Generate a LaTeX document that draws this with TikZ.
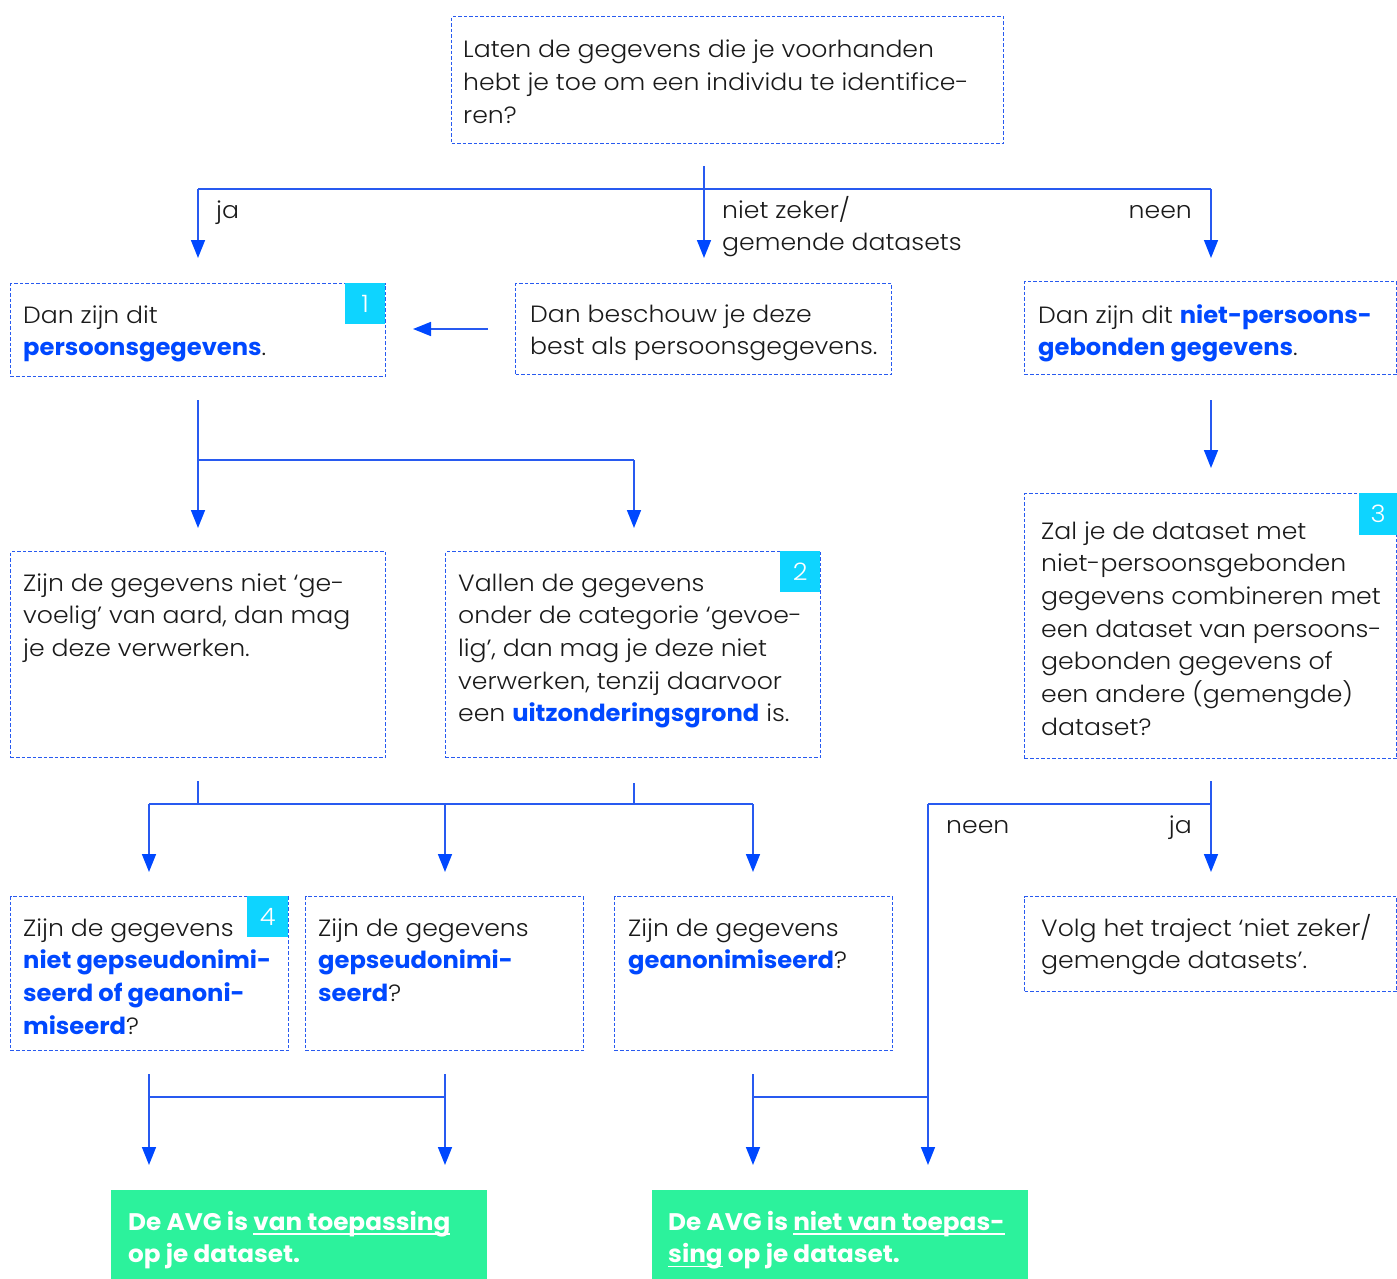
\documentclass[tikz,border=0pt]{standalone}
\usepackage{fontspec}
\setmainfont{Poppins}[UprightFont={* Light}, BoldFont={* Bold}, UprightFeatures={FakeStretch=1.07}, BoldFeatures={FakeStretch=1.03}]
\usetikzlibrary{arrows.meta}
\definecolor{lblue}{RGB}{40,90,240}
\definecolor{dblue}{RGB}{0,72,255}
\definecolor{tblack}{RGB}{26,26,26}
\definecolor{agreen}{RGB}{44,242,156}
\definecolor{acyan}{RGB}{14,212,255}
\newcommand\hl[1]{\textbf{\color{dblue}#1}}
\newcommand\lns[1]{\begin{tabular}[t]{@{}l@{}}#1\end{tabular}}
\newlength\ulw
\newcommand\wul[1]{\settowidth\ulw{#1}\rlap{\color{white}\rule[-4.5pt]{\ulw}{1.6pt}}#1}
\begin{document}
\begin{tikzpicture}[x=1pt,y=-1pt,
  box/.style={draw=lblue, line width=1.2pt, dash pattern=on 3.5pt off 2pt, inner sep=0pt, anchor=north west},
  gbox/.style={fill=agreen, inner sep=0pt, anchor=north west},
  txt/.style={anchor=base west, inner sep=0pt, text=tblack, font=\fontsize{23.5}{32.7}\selectfont},
  gtxt/.style={anchor=base west, inner sep=0pt, text=white, font=\fontsize{24}{32.7}\selectfont\bfseries},
  lbl/.style={inner sep=0pt, text=tblack, font=\fontsize{23.5}{32.7}\selectfont},
  badge/.style={fill=acyan, inner sep=0pt, text=white, font=\fontsize{24}{24}\selectfont},
  conn/.style={draw=lblue, line width=1.6pt},
  arr/.style={conn, -{Triangle[length=18pt,width=14pt,color=dblue]}}]
\useasboundingbox (0,0) rectangle (1397,1279);

% ---------- boxes ----------
\node[box, minimum width=552pt, minimum height=127pt] (q) at (451,16) {};
\node[txt] (qt) at (463,58) {\lns{Laten de gegevens die je voorhanden\\hebt je toe om een individu te identifice-\\ren?}};

\node[box, minimum width=375pt, minimum height=93pt] (p1) at (10,283) {};
\node[badge, minimum width=40pt, minimum height=41pt, anchor=north west] (b1) at (345,283) {1};
\node[txt] (p1t) at (23,323) {\lns{Dan zijn dit\\\hl{persoonsgegevens}.}};

\node[box, minimum width=376pt, minimum height=91pt] (pm) at (515,283) {};
\node[txt] (pmt) at (530,322) {\lns{Dan beschouw je deze\\best als persoonsgegevens.}};

\node[box, minimum width=372pt, minimum height=93pt] (pr) at (1024,281) {};
\node[txt] (prt) at (1038,323) {\lns{Dan zijn dit \hl{niet-persoons-}\\\hl{gebonden gegevens}.}};

\node[box, minimum width=372pt, minimum height=265pt] (p3) at (1024,493) {};
\node[badge, minimum width=38pt, minimum height=42pt, anchor=north west] (b3) at (1359,493) {3};
\node[txt] (p3t) at (1041,539) {\lns{Zal je de dataset met\\niet-persoonsgebonden\\gegevens combineren met\\een dataset van persoons-\\gebonden gegevens of\\een andere (gemengde)\\dataset?}};

\node[box, minimum width=375pt, minimum height=206pt] (pa) at (10,551) {};
\node[txt] (pat) at (23,591) {\lns{Zijn de gegevens niet ‘ge-\\voelig’ van aard, dan mag\\je deze verwerken.}};

\node[box, minimum width=375pt, minimum height=206pt] (pb) at (445,551) {};
\node[badge, minimum width=40pt, minimum height=41pt, anchor=north west] (b2) at (780,551) {2};
\node[txt] (pbt) at (458,591) {\lns{Vallen de gegevens\\onder de categorie ‘gevoe-\\lig’, dan mag je deze niet\\verwerken, tenzij daarvoor\\een \hl{uitzonderingsgrond} is.}};

\node[box, minimum width=278pt, minimum height=154pt] (pc) at (10,896) {};
\node[badge, minimum width=41pt, minimum height=41pt, anchor=north west] (b4) at (247,896) {4};
\node[txt] (pct) at (23,936) {\lns{Zijn de gegevens\\\hl{niet gepseudonimi-}\\\hl{seerd of geanoni-}\\\hl{miseerd}?}};

\node[box, minimum width=278pt, minimum height=154pt] (pd) at (305,896) {};
\node[txt] (pdt) at (318,936) {\lns{Zijn de gegevens\\\hl{gepseudonimi-}\\\hl{seerd}?}};

\node[box, minimum width=278pt, minimum height=154pt] (pe) at (614,896) {};
\node[txt] (pet) at (628,936) {\lns{Zijn de gegevens\\\hl{geanonimiseerd}?}};

\node[box, minimum width=372pt, minimum height=95pt] (pf) at (1024,896) {};
\node[txt] (pft) at (1041,936) {\lns{Volg het traject ‘niet zeker/\\gemengde datasets’.}};

\node[gbox, minimum width=376pt, minimum height=89pt] (g1) at (111,1190) {};
\node[gtxt] (g1t) at (128,1230) {\lns{De AVG is \wul{van toepassing}\\op je dataset.}};

\node[gbox, minimum width=376pt, minimum height=89pt] (g2) at (652,1190) {};
\node[gtxt] (g2t) at (668,1230) {\lns{De AVG is \wul{niet van toepas-}\\\wul{sing} op je dataset.}};

% ---------- labels ----------
\node[lbl, anchor=base west] (lja1) at (216,218) {ja};
\node[lbl, anchor=base west] (lnz) at (722,218) {\lns{niet zeker/\\gemende datasets}};
\node[lbl, anchor=base east] (lne1) at (1192,218) {neen};
\node[lbl, anchor=base west] (lne2) at (946,833) {neen};
\node[lbl, anchor=base east] (lja2) at (1192,833) {ja};

% ---------- connector coordinates ----------
\coordinate (qs) at (704,166);
\coordinate (hL) at (198,189);
\coordinate (hR) at (1211,189);
\coordinate (aL) at (198,258);
\coordinate (aM) at (704,258);
\coordinate (aR) at (1211,258);
\coordinate (pmw) at (488,329);
\coordinate (p1e) at (413,329);
\coordinate (prs) at (1211,400);
\coordinate (p3n) at (1211,468);
\coordinate (p1s) at (198,400);
\coordinate (s1) at (198,460);
\coordinate (s2) at (634,460);
\coordinate (paN) at (198,528);
\coordinate (pbN) at (634,528);
\coordinate (pas) at (198,781);
\coordinate (pas2) at (198,804);
\coordinate (pbs) at (634,783);
\coordinate (pbs2) at (634,804);
\coordinate (m1) at (149,804);
\coordinate (m2) at (445,804);
\coordinate (m3) at (753,804);
\coordinate (pcN) at (149,872);
\coordinate (pdN) at (445,872);
\coordinate (peN) at (753,872);
\coordinate (p3s) at (1211,781);
\coordinate (r1) at (1211,804);
\coordinate (r2) at (928,804);
\coordinate (pfN) at (1211,872);
\coordinate (g2b) at (928,1165);
\coordinate (pcs) at (149,1074);
\coordinate (pds) at (445,1074);
\coordinate (pes) at (753,1074);
\coordinate (j1) at (149,1097);
\coordinate (j2) at (445,1097);
\coordinate (j3) at (753,1097);
\coordinate (j4) at (928,1097);
\coordinate (g1a) at (149,1165);
\coordinate (g1b) at (445,1165);
\coordinate (g2a) at (753,1165);

% ---------- connectors ----------
\draw[conn] (aL |- hL) -- (hR);
\draw[arr] (hL) -- (aL);
\draw[arr] (qs) -- (aM);
\draw[arr] (hR) -- (aR);
\draw[arr] (pmw) -- (p1e);
\draw[arr] (prs) -- (p3n);
\draw[arr] (p1s) -- (paN);
\draw[conn] (s1) -- (s2);
\draw[arr] (s2) -- (pbN);
\draw[conn] (pas) -- (pas2);
\draw[conn] (pbs) -- (pbs2);
\draw[conn] (m1) -- (m3);
\draw[arr] (m1) -- (pcN);
\draw[arr] (m2) -- (pdN);
\draw[arr] (m3) -- (peN);
\draw[arr] (p3s) -- (pfN);
\draw[conn] (r1) -- (r2);
\draw[arr] (r2) -- (g2b);
\draw[arr] (pcs) -- (g1a);
\draw[arr] (pds) -- (g1b);
\draw[conn] (j1) -- (j2);
\draw[arr] (pes) -- (g2a);
\draw[conn] (j3) -- (j4);
\end{tikzpicture}
\end{document}
